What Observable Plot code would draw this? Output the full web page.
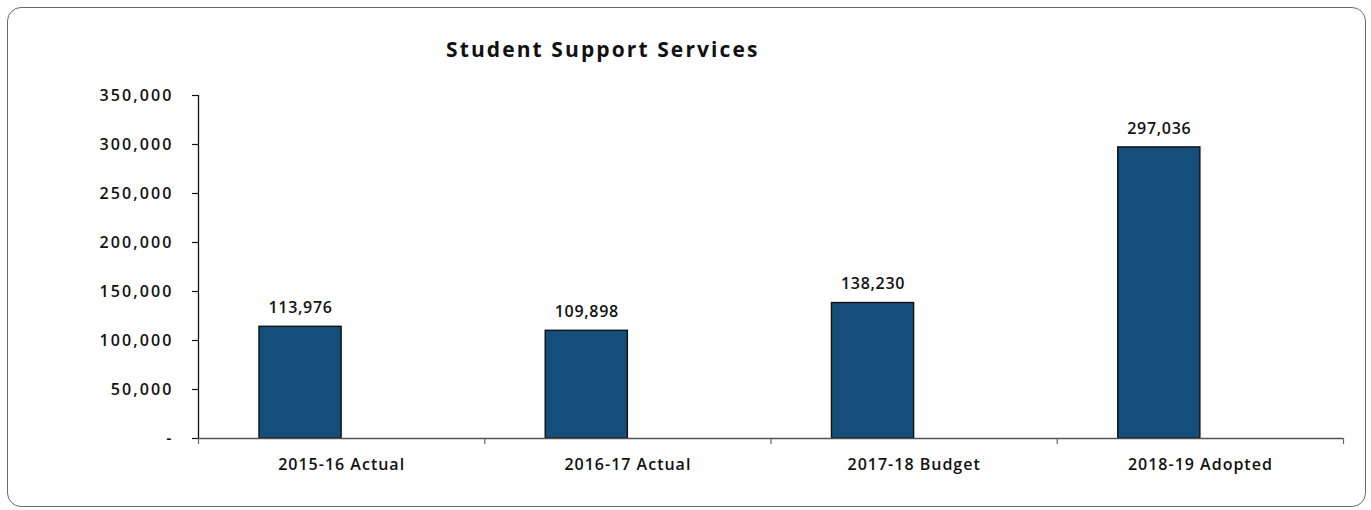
<!DOCTYPE html>
<html>
<head>
<meta charset="utf-8">
<script src="https://cdn.jsdelivr.net/npm/d3@7"></script>
<script src="https://cdn.jsdelivr.net/npm/@observablehq/plot@0.6"></script>
<style>
  html, body { margin: 0; padding: 0; background: #fff; }
  #frame {
    position: absolute; left: 7px; top: 7px; width: 1359px; height: 500px;
    border: 1.3px solid #6b6b6b; border-radius: 14px; box-sizing: border-box;
    pointer-events: none; z-index: 2;
  }
  #title {
    position: absolute; left: 446px; top: 35px;
    font-family: "Open Sans", Inter, sans-serif; font-weight: 700; font-size: 21px;
    color: #111; letter-spacing: 2.1px; white-space: nowrap;
  }
  #chart { position: absolute; left: 0; top: 0; }
  #chart svg .ytick text { letter-spacing: 2.1px; }
  #chart svg .xlab text { letter-spacing: 1px; }
  #chart svg .vals text { letter-spacing: 0.7px; }
</style>
</head>
<body>
<div id="frame"></div>
<div id="title">Student Support Services</div>
<div id="chart"></div>
<script>
// Fiscal years and spending for Student Support Services
const categories = ["2015-16 Actual", "2016-17 Actual", "2017-18 Budget", "2018-19 Adopted"];
const amounts = [113976, 109898, 138230, 297036];
const yTicks = [0, 50000, 100000, 150000, 200000, 250000, 300000, 350000];

const rows = categories.map((c, i) => ({category: c, amount: amounts[i], slot: i}));

// Each bar fills the left part of its slot, ending at the slot centre
const barFrac = 0.287;
const fmt = d3.format(",");
const font = "'Open Sans', Inter, sans-serif";

const chart = Plot.plot({
  width: 1371,
  height: 510,
  marginLeft: 198,
  marginRight: 28,
  marginTop: 95,
  marginBottom: 72,
  style: {background: "transparent", fontFamily: font, fontSize: "16px", fontWeight: 600, color: "#111"},
  x: {domain: [0, categories.length]},
  y: {domain: [0, 350000]},
  marks: [
    // y axis: ticks and labels, "-" for zero
    Plot.axisY({
      ticks: yTicks, tickSize: 6, tickPadding: 19, label: null, fontSize: 16, className: "ytick",
      tickFormat: d => d === 0 ? "-" : fmt(d), stroke: "#111", strokeWidth: 1.2
    }),
    // slot boundary ticks under the x axis
    Plot.axisX({
      ticks: d3.range(categories.length + 1), tickSize: 6, tickFormat: () => "",
      label: null, stroke: "#666", strokeWidth: 1.2
    }),
    // category labels at slot centres
    Plot.axisX({
      ticks: categories.map((c, i) => i + 0.5), tickSize: 0, tickPadding: 20, className: "xlab",
      tickFormat: d => categories[Math.floor(d)], label: null, fontSize: 16
    }),
    Plot.rectY(rows, {
      x1: d => d.slot + 0.5 - barFrac, x2: d => d.slot + 0.5, y: "amount",
      fill: "#134f7a", stroke: "#111", strokeWidth: 1.4
    }),
    Plot.ruleY([0], {stroke: "#555", strokeWidth: 1.3}),
    Plot.ruleX([0], {stroke: "#111", strokeWidth: 1.3}),
    Plot.text(rows, {
      x: d => d.slot + 0.5 - barFrac / 2, y: "amount", text: d => fmt(d.amount), className: "vals",
      dy: -19, fontSize: 16, fontWeight: 600, fill: "#111"
    })
  ]
});
document.getElementById("chart").appendChild(chart);
</script>
</body>
</html>
